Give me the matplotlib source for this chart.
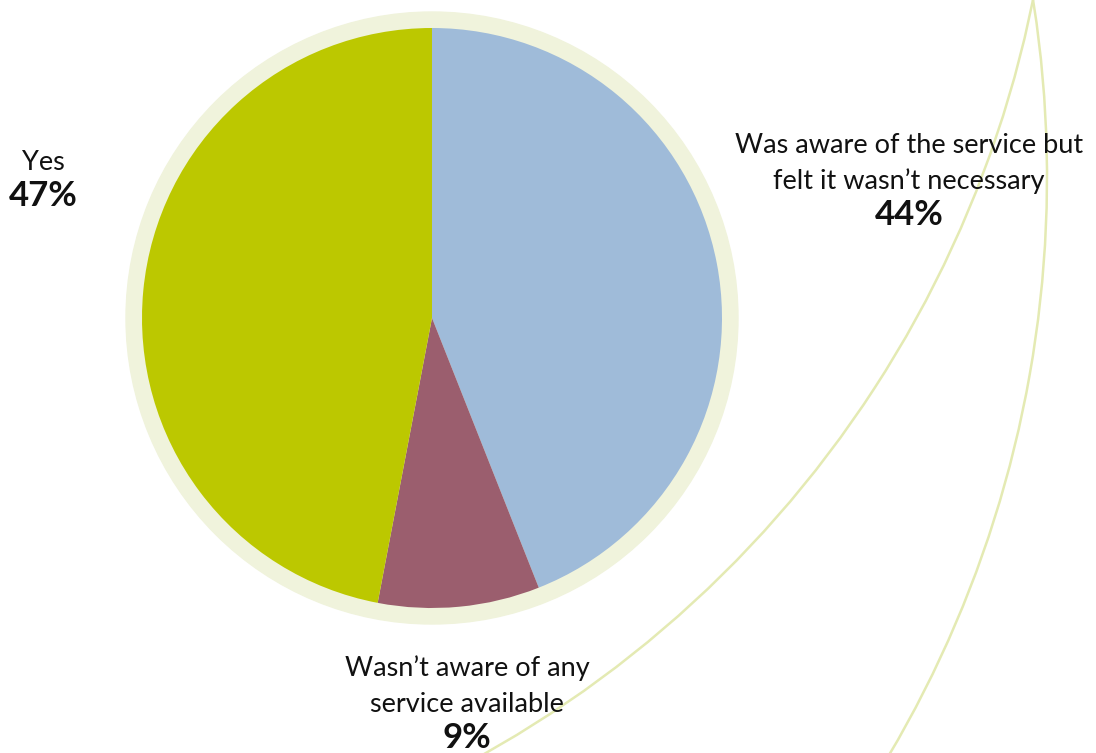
import matplotlib
matplotlib.use('Agg')
import numpy as np
import matplotlib.pyplot as plt
from matplotlib.patches import Circle, Arc

# survey answers, clockwise from 12 o'clock
labels = ['Was aware of the service but\nfelt it wasn’t necessary',
          'Wasn’t aware of any\nservice available',
          'Yes']
shares = [44, 9, 47]
colours = ['#9fbbd9', '#9b5e6e', '#bcc800']

W, H = 1096, 753
plt.rcParams['font.family'] = ['Lato', 'DejaVu Sans']

fig = plt.figure(figsize=(W / 100, H / 100), dpi=100)
ax = fig.add_axes([0, 0, 1, 1])
ax.set_xlim(0, W)
ax.set_ylim(0, H)
ax.set_aspect('equal')
ax.axis('off')

cx, cy, r = 432, H - 318, 290

# pale ring behind the pie
ax.add_patch(Circle((cx, cy), r + 16, color='#f0f3dc', zorder=1))
ax.pie(shares, colors=colours, startangle=90, counterclock=False,
       center=(cx, cy), radius=r, frame=True,
       wedgeprops=dict(linewidth=0, zorder=2))
ax.set_xlim(0, W)
ax.set_ylim(0, H)
ax.axis('off')

# two big decorative arcs on the right
line_col = '#e4eab3'
ax.add_patch(Arc((-63, H + 221), 2 * 1118, 2 * 1118, theta1=-66, theta2=0,
                 color=line_col, lw=1.8, zorder=0))
ax.add_patch(Arc((-90, H - 177), 2 * 1137, 2 * 1137, theta1=-40, theta2=20,
                 color=line_col, lw=1.8, zorder=0))

def label(x, y, lines, pct):
    for i, t in enumerate(lines):
        ax.text(x, H - (y + 36 * i), t, ha='center', va='center',
                fontsize=19.5, color='#111111', zorder=5)
    ax.text(x, H - (y + 36 * len(lines) - 2), pct, ha='center', va='center',
            fontsize=25, fontweight='bold', color='#111111', zorder=5)

label(909, 145, labels[0].split('\n'), f'{shares[0]}%')
label(467, 668, labels[1].split('\n'), f'{shares[1]}%')
label(43, 162, labels[2].split('\n'), f'{shares[2]}%')

fig.savefig('out.png', dpi=100)
